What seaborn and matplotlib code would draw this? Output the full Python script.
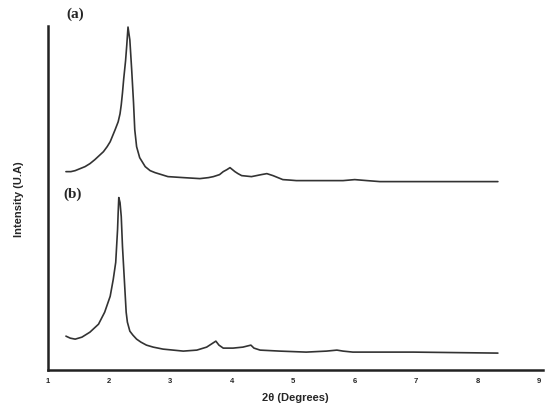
import pandas as pd
import matplotlib
matplotlib.use('Agg')
import matplotlib.pyplot as plt
import seaborn as sns

# 2theta positions and intensities (arbitrary units)
two_theta_a = [1.30, 1.38, 1.45, 1.53, 1.61, 1.69, 1.77, 1.84, 1.91, 1.97, 2.02, 2.06,
               2.10, 2.15, 2.18, 2.20, 2.22, 2.24, 2.27, 2.29, 2.31, 2.34, 2.37, 2.40,
               2.42, 2.45, 2.50, 2.55, 2.59, 2.67, 2.75, 2.96, 3.21, 3.48, 3.62, 3.70,
               3.80, 3.86, 3.92, 3.97, 4.01, 4.05, 4.10, 4.16, 4.32, 4.48, 4.57, 4.62,
               4.67, 4.75, 4.83, 4.95, 5.05, 5.81, 6.00, 6.20, 6.41, 7.06, 8.33]
intensity_a = [199, 199, 200, 202, 204, 207, 211, 215, 219, 224, 229, 235,
               241, 249, 257, 266, 278, 292, 310, 326, 344, 331, 301, 268,
               241, 224, 213, 208, 204, 200, 198, 194, 193, 192, 193, 194,
               196, 199, 201, 203, 201, 199, 197, 195, 194, 196, 197, 196,
               195, 193, 191, 190.5, 190, 190, 191, 190, 189, 189, 189]

two_theta_b = [1.30, 1.37, 1.45, 1.56, 1.69, 1.83, 1.93, 2.02, 2.07, 2.11, 2.14, 2.15,
               2.16, 2.18, 2.20, 2.22, 2.25, 2.28, 2.30, 2.34, 2.39, 2.45, 2.52, 2.61,
               2.72, 2.88, 3.21, 3.43, 3.59, 3.69, 3.74, 3.79, 3.86, 4.02, 4.18, 4.31,
               4.36, 4.46, 4.78, 5.21, 5.54, 5.71, 5.81, 5.97, 6.95, 8.33]
intensity_b = [34, 32, 31, 33, 38, 46, 58, 74, 91, 108, 141, 158,
               173, 168, 154, 124, 91, 58, 48, 39, 35, 31, 28, 25,
               23, 21, 19, 20, 23, 27, 29, 25, 22, 22, 23, 25,
               22, 20, 19, 18, 19, 20, 19, 18, 18, 17]

x_ticks = [1, 2, 3, 4, 5, 6, 7, 8, 9]

df = pd.concat([
    pd.DataFrame({'two_theta': two_theta_a, 'intensity': intensity_a, 'sample': '(a)'}),
    pd.DataFrame({'two_theta': two_theta_b, 'intensity': intensity_b, 'sample': '(b)'}),
])

sns.set_style('white')
plt.rcParams['font.family'] = ['Liberation Sans', 'DejaVu Sans']

fig = plt.figure(figsize=(5.5, 4.1), dpi=100)
ax = fig.add_axes([0.0864, 0.095, 0.9015, 0.839])

sns.lineplot(data=df, x='two_theta', y='intensity', hue='sample', units='sample',
             estimator=None, sort=False, palette=['#333333', '#333333'],
             linewidth=1.2, legend=False, ax=ax)

ax.set_xlim(1, 9.07)
ax.set_ylim(0, 345)
ax.set_xticks(x_ticks)
ax.set_xticklabels([str(t) for t in x_ticks], fontsize=5.5, fontweight='bold')
ax.set_yticks([])
ax.tick_params(axis='x', direction='inout', length=6, width=1.4, color='#222222', pad=2)

for side in ['top', 'right']:
    ax.spines[side].set_visible(False)
for side in ['left', 'bottom']:
    ax.spines[side].set_color('#222222')
    ax.spines[side].set_linewidth(1.8)

ax.set_xlabel('2θ (Degrees)', fontsize=8, fontweight='bold', labelpad=6)
ax.set_ylabel('Intensity (U.A)', fontsize=8, fontweight='bold', labelpad=17)

# panel letters
fig.text(75 / 550, 1 - 14 / 410, '(a)', fontsize=11, family=['Liberation Serif'],
         fontweight='bold', ha='center', va='center')
fig.text(73 / 550, 1 - 194 / 410, '(b)', fontsize=11, family=['Liberation Serif'],
         fontweight='bold', ha='center', va='center')

fig.savefig('out.png', dpi=100)
